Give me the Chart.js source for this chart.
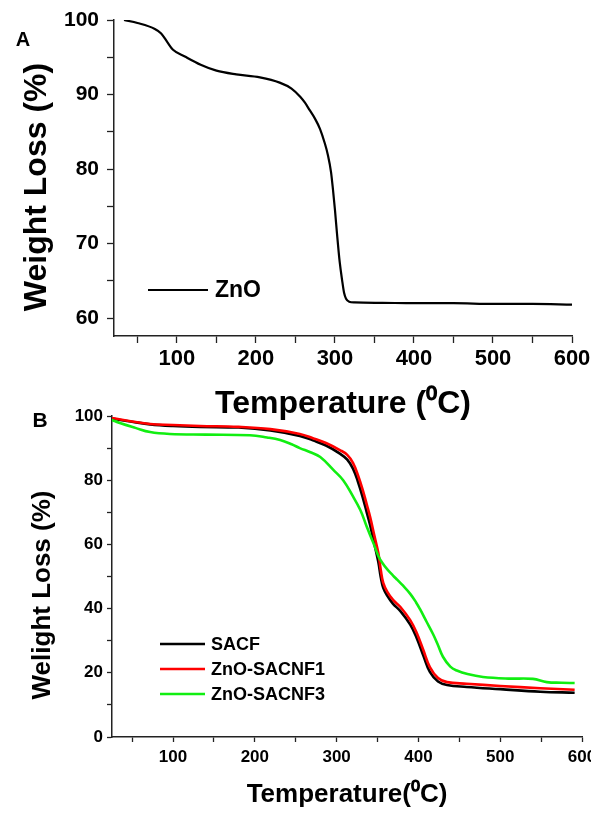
<!DOCTYPE html>
<html>
<head>
<meta charset="utf-8">
<script src="https://cdn.jsdelivr.net/npm/chart.js@4.4.1/dist/chart.umd.min.js"></script>
<style>
  body { margin: 0; background: #fff; }
  #wrap_a { position: absolute; left: 0; top: 0; width: 604px; height: 430px; }
  #wrap_b { position: absolute; left: 0; top: 400px; width: 591px; height: 414px; }
</style>
</head>
<body>
<div id="wrap_a"><canvas id="chart_a"></canvas></div>
<div id="wrap_b"><canvas id="chart_b"></canvas></div>
<script>
// panel A - ZnO
var temp_a   = [33, 50, 72, 80, 88, 95, 110, 130, 150, 175, 205, 230, 245, 256, 262, 268, 275, 281, 287, 291, 295, 297.5, 300, 302.5, 306, 309, 311.5, 314, 318, 325, 360, 400, 450, 500, 550, 600];
var zno      = [100, 99.6, 98.8, 98.2, 97.0, 96.0, 95.1, 94.0, 93.2, 92.7, 92.3, 91.6, 90.8, 89.7, 88.9, 87.9, 86.7, 85.4, 83.5, 81.9, 79.6, 77.2, 74.5, 71.4, 67.5, 65.1, 63.4, 62.6, 62.2, 62.1, 62.05, 62.0, 62.0, 61.9, 61.9, 61.8];

// panel B - fibres
var temp_b   = [25, 50, 72, 100, 133, 180, 219, 255, 271, 287, 304, 313, 320, 326, 332, 337, 341, 346, 351, 354, 357, 362, 369, 378, 390, 398, 406, 414, 424, 435, 459, 500, 549, 591];
var sacf     = [99.2, 98.2, 97.4, 96.9, 96.6, 96.4, 95.5, 93.8, 92.4, 90.8, 88.3, 86.4, 83.6, 79.6, 74.6, 69.8, 66.0, 60.3, 54.5, 49.8, 46.5, 44.0, 41.5, 39.2, 35.0, 30.8, 25.4, 20.3, 17.3, 16.2, 15.6, 14.9, 14.1, 13.8];
var sacnf1   = [99.4, 98.3, 97.5, 97.2, 96.9, 96.6, 95.9, 94.4, 93.1, 91.6, 89.4, 87.9, 85.4, 81.6, 76.9, 72.3, 68.5, 62.9, 57.3, 52.0, 48.0, 45.2, 42.7, 40.5, 36.4, 32.4, 27.1, 21.8, 18.4, 17.1, 16.6, 15.9, 15.2, 14.7];
var temp_b3  = [25, 35, 54, 72, 96, 140, 194, 215, 231, 245, 255, 268, 280, 296, 308, 319, 329, 337, 345, 351, 356, 362, 369, 374, 381, 390, 397, 402, 410, 418, 424, 430, 439, 447, 460, 479, 510, 540, 557, 575, 591];
var sacnf3   = [98.8, 97.8, 96.3, 95.0, 94.4, 94.2, 94.0, 93.3, 92.5, 91.2, 90.0, 88.7, 87.2, 83.2, 80.0, 75.4, 70.7, 65.4, 60.4, 56.4, 54.2, 52.2, 50.3, 49.0, 47.2, 44.6, 42.0, 39.8, 35.9, 32.0, 28.6, 25.0, 21.9, 20.7, 19.6, 18.7, 18.2, 18.1, 17.1, 16.9, 16.8];

// tick values
var x_major   = [100, 200, 300, 400, 500, 600];
var x_minor   = [50, 150, 250, 350, 450, 550];
var y_major_a = [60, 70, 80, 90, 100];
var y_minor_a = [65, 75, 85, 95];
var y_major_b = [0, 20, 40, 60, 80, 100];
var y_minor_b = [10, 30, 50, 70, 90];

Chart.defaults.font.family = "'Liberation Sans', Arial, sans-serif";
Chart.defaults.color = '#000';

function to_points(xs, ys) {
    return xs.map(function(x, i) { return {x: x, y: ys[i]}; });
}

function tick_list(major, minor) {
    return major.concat(minor).sort(function(a, b) { return a - b; })
        .map(function(v) { return {value: v}; });
}

// draws free text (y titles, panel letters)
var panel_text = {
    id: 'panel_text',
    afterDraw: function(chart, args, opts) {
        var ctx = chart.ctx;
        (opts.items || []).forEach(function(item) {
            ctx.save();
            ctx.translate(item.x, item.y);
            ctx.rotate(item.rotate || 0);
            ctx.font = item.font;
            ctx.fillStyle = '#000';
            ctx.textAlign = 'center';
            ctx.textBaseline = 'middle';
            ctx.fillText(item.text, 0, 0);
            ctx.restore();
        });
    }
};

// legend inside the plot area
var inset_legend = {
    id: 'inset_legend',
    afterDatasetsDraw: function(chart, args, opts) {
        var ctx = chart.ctx;
        var area = chart.chartArea;
        chart.data.datasets.forEach(function(ds, i) {
            var x = area.left + opts.left;
            var y = area.top + opts.top + i * opts.rowGap;
            ctx.save();
            ctx.strokeStyle = ds.borderColor;
            ctx.lineWidth = opts.lineWidth;
            ctx.beginPath();
            ctx.moveTo(x, y);
            ctx.lineTo(x + opts.lineLength, y);
            ctx.stroke();
            ctx.fillStyle = '#000';
            ctx.font = opts.font;
            ctx.textAlign = 'left';
            ctx.textBaseline = 'middle';
            ctx.fillText(ds.label, x + opts.lineLength + opts.gap, y + 1);
            ctx.restore();
        });
    }
};

function make_axes(o) {
    return {
        x: {
            type: 'linear',
            min: o.xmin,
            max: 600,
            afterBuildTicks: function(s) { s.ticks = tick_list(x_major, x_minor); },
            afterFit: function(s) { s.height = o.xHeight; s.paddingLeft = 0; s.paddingRight = 0; },
            border: {color: '#222', width: 1.5},
            grid: {drawOnChartArea: false, tickLength: o.tickLen, color: '#222', tickWidth: 1.3},
            ticks: {
                autoSkip: false, maxRotation: 0, padding: o.xTickPad,
                font: {size: o.xTickSize, weight: 'bold'},
                callback: function(v) { return x_major.indexOf(v) >= 0 ? v : ''; }
            },
            title: {
                display: true, text: o.xTitle,
                font: {size: o.xTitleSize, weight: 'bold'},
                padding: {top: 0, bottom: o.xTitlePad}
            }
        },
        y: {
            min: o.ymin,
            max: 100,
            afterBuildTicks: function(s) { s.ticks = tick_list(o.yMajor, o.yMinor); },
            afterFit: function(s) { s.width = o.yWidth; s.paddingTop = 0; s.paddingBottom = 0; },
            border: {color: '#222', width: 1.5},
            grid: {drawOnChartArea: false, tickLength: o.tickLen, color: '#222', tickWidth: 1.3},
            ticks: {
                autoSkip: false, padding: o.yTickPad,
                font: {size: o.yTickSize, weight: 'bold'},
                callback: function(v) { return o.yMajor.indexOf(v) >= 0 ? v : ''; }
            }
        }
    };
}

new Chart(document.getElementById('chart_a'), {
    type: 'line',
    data: {
        datasets: [{
            label: 'ZnO',
            data: to_points(temp_a, zno),
            borderColor: '#000',
            borderWidth: 2.2,
            pointRadius: 0,
            cubicInterpolationMode: 'monotone'
        }]
    },
    options: {
        responsive: true,
        maintainAspectRatio: false,
        animation: false,
        layout: {padding: {top: 20, right: 32, left: 0, bottom: 0}},
        scales: make_axes({
            xmin: 20.3, ymin: 57.6, xHeight: 94, yWidth: 114, tickLen: 7,
            xTickPad: 3, xTickSize: 22, yTickPad: 8, yTickSize: 21,
            xTitle: 'Temperature (\u2070C)', xTitleSize: 32, xTitlePad: 7,
            yMajor: y_major_a, yMinor: y_minor_a
        }),
        plugins: {
            legend: {display: false},
            tooltip: {enabled: false},
            inset_legend: {left: 34, top: 270, rowGap: 25, lineLength: 60, gap: 7, lineWidth: 2.2, font: 'bold 23px "Liberation Sans", Arial, sans-serif'},
            panel_text: {items: [
                {text: 'A', x: 23, y: 40, font: 'bold 20px "Liberation Sans", Arial, sans-serif'},
                {text: 'Weight Loss (%)', x: 37, y: 187, rotate: -Math.PI / 2, font: 'bold 32px "Liberation Sans", Arial, sans-serif'}
            ]}
        }
    },
    plugins: [inset_legend, panel_text]
});

new Chart(document.getElementById('chart_b'), {
    type: 'line',
    data: {
        datasets: [
            {label: 'SACF', data: to_points(temp_b, sacf), borderColor: '#000', order: 3},
            {label: 'ZnO-SACNF1', data: to_points(temp_b, sacnf1), borderColor: '#ff0000', order: 2},
            {label: 'ZnO-SACNF3', data: to_points(temp_b3, sacnf3), borderColor: '#11ee11', order: 1}
        ]
    },
    options: {
        responsive: true,
        maintainAspectRatio: false,
        animation: false,
        datasets: {line: {borderWidth: 2.6, pointRadius: 0, tension: 0.4}},
        layout: {padding: {top: 16, right: 9, left: 0, bottom: 0}},
        scales: make_axes({
            xmin: 25.4, ymin: 0, xHeight: 77, yWidth: 112, tickLen: 5,
            xTickPad: 5, xTickSize: 17, yTickPad: 4, yTickSize: 17,
            xTitle: 'Temperature(\u2070C)', xTitleSize: 26, xTitlePad: 4,
            yMajor: y_major_b, yMinor: y_minor_b
        }),
        plugins: {
            legend: {display: false},
            tooltip: {enabled: false},
            inset_legend: {left: 48, top: 228, rowGap: 25, lineLength: 45, gap: 6, lineWidth: 2.6, font: 'bold 18px "Liberation Sans", Arial, sans-serif'},
            panel_text: {items: [
                {text: 'B', x: 40, y: 21, font: 'bold 21px "Liberation Sans", Arial, sans-serif'},
                {text: 'Welight Loss (%)', x: 43, y: 195, rotate: -Math.PI / 2, font: 'bold 26px "Liberation Sans", Arial, sans-serif'}
            ]}
        }
    },
    plugins: [inset_legend, panel_text]
});
</script>
</body>
</html>
